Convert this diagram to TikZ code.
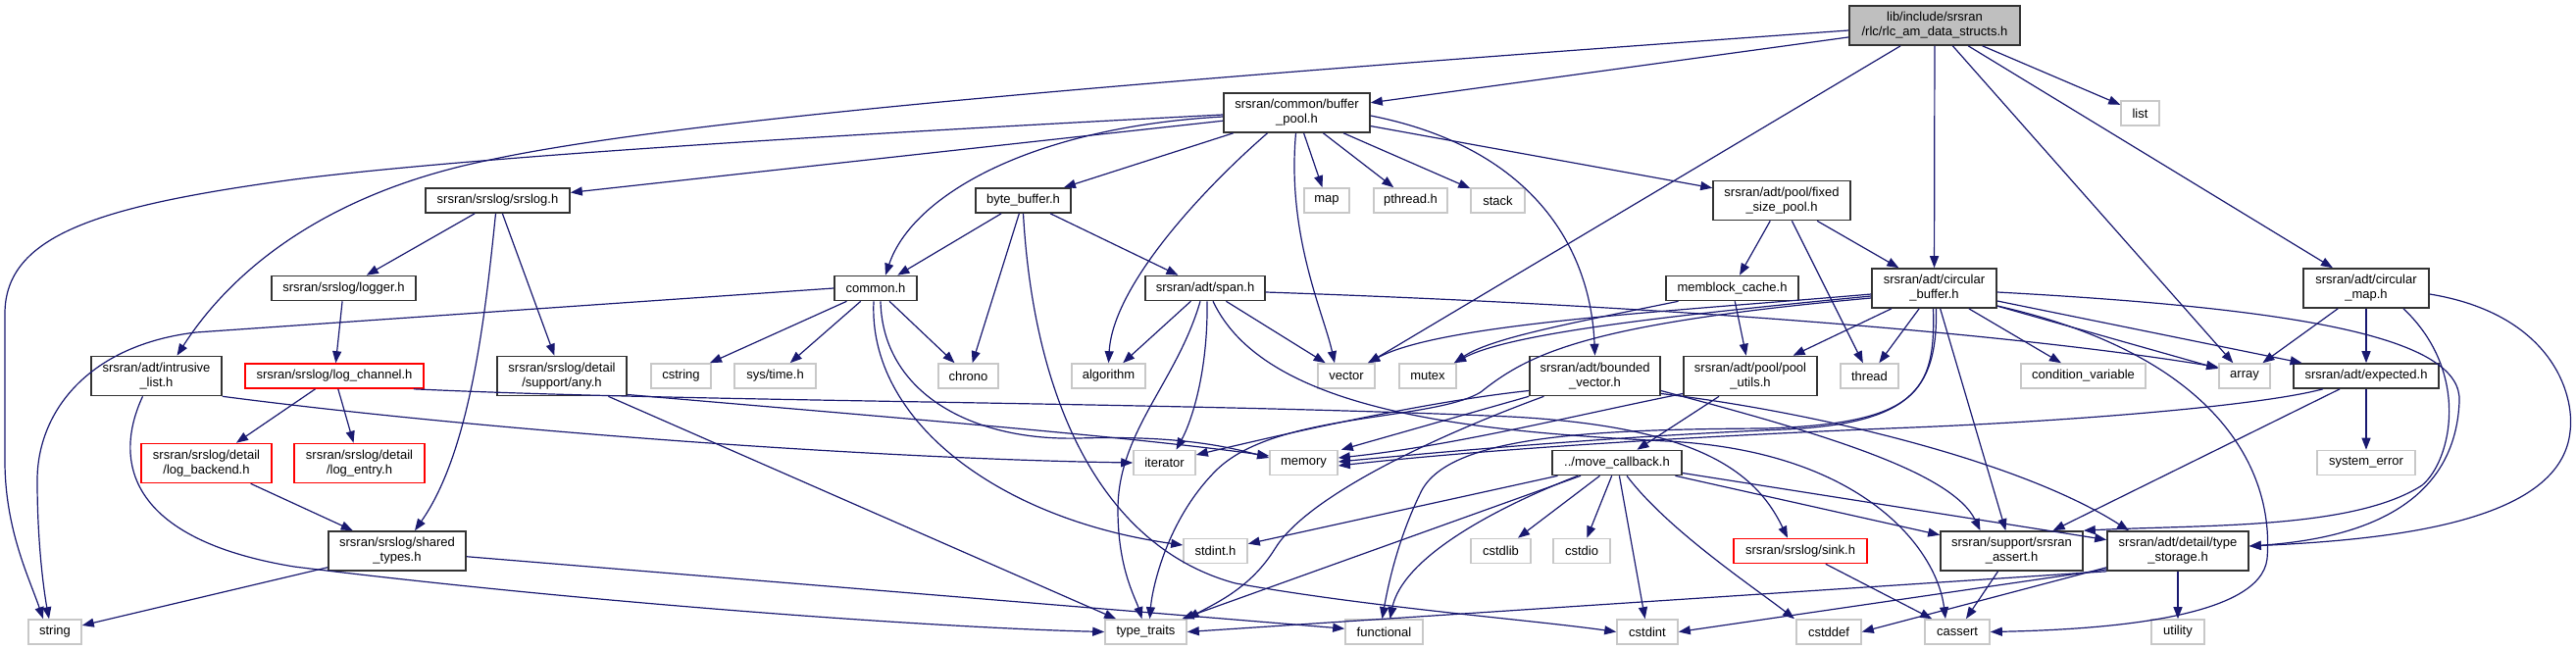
\documentclass[tikz,border=0pt]{standalone}
\usepackage{fontspec}
\setmainfont{Liberation Sans}
\usetikzlibrary{arrows.meta,calc}
\definecolor{edgeblue}{RGB}{25,25,112}
\definecolor{mainfill}{RGB}{191,191,191}
\definecolor{sysgray}{RGB}{200,200,200}
\newcommand\dxfnt{\fontsize{13}{15}\selectfont}
\tikzset{
  base/.style={rectangle, inner sep=0pt, align=center, font=\dxfnt, line width=1.6pt, fill=white},
  nd/.style={base, draw=black!80},
  sys/.style={base, draw=sysgray},
  trunc/.style={base, draw=red},
  mainnd/.style={base, draw=black!80, fill=mainfill},
  wd/.style={minimum width=#1pt},
  one/.style={minimum height=25pt},
  two/.style={minimum height=40pt},
  e/.style={draw=edgeblue, line width=1.2pt, -{Triangle[length=12pt,width=9pt]}},
}
\begin{document}
\begin{tikzpicture}[x=1pt,y=-1pt]
\useasboundingbox (0,0) rectangle (2627,663);
% row 0-1
\node[mainnd,wd=174,two] (main) at (1973,26) {lib/include/srsran\\/rlc/rlc\_am\_data\_structs.h};
\node[nd,wd=149,two] (bp) at (1322.5,115) {srsran/common/buffer\\\_pool.h};
\node[sys,wd=39,one] (list) at (2182.5,115.5) {list};
% row 2
\node[nd,wd=147,one] (srslog) at (507.5,204.5) {srsran/srslog/srslog.h};
\node[nd,wd=97,one] (bbuf) at (1043.5,204.5) {byte\_buffer.h};
\node[sys,wd=46,one] (map) at (1353,204.5) {map};
\node[sys,wd=75,one] (pthread) at (1438.5,204.5) {pthread.h};
\node[sys,wd=55,one] (stack) at (1527.5,204.5) {stack};
\node[nd,wd=140,two] (fixed) at (1817,204.5) {srsran/adt/pool/fixed\\\_size\_pool.h};
% row 3
\node[nd,wd=147,one] (logger) at (350.5,294) {srsran/srslog/logger.h};
\node[nd,wd=84,one] (common) at (893,294) {common.h};
\node[nd,wd=122,one] (span) at (1229,294) {srsran/adt/span.h};
\node[nd,wd=135,one] (memblock) at (1766.5,294) {memblock\_cache.h};
\node[nd,wd=127,two] (cbuf) at (1972.5,294) {srsran/adt/circular\\\_buffer.h};
\node[nd,wd=128,two] (cmap) at (2413,294) {srsran/adt/circular\\\_map.h};
% row 4
\node[nd,wd=133,two] (intru) at (159.5,383.5) {srsran/adt/intrusive\\\_list.h};
\node[trunc,wd=182,one] (logch) at (341,383.5) {srsran/srslog/log\_channel.h};
\node[nd,wd=132,two] (any) at (573,383.5) {srsran/srslog/detail\\/support/any.h};
\node[sys,wd=61,one] (cstring) at (694.5,383.5) {cstring};
\node[sys,wd=83,one] (systime) at (790.5,383.5) {sys/time.h};
\node[sys,wd=61,one] (chrono) at (987.5,383.5) {chrono};
\node[sys,wd=75,one] (algorithm) at (1130.5,383.5) {algorithm};
\node[sys,wd=58,one] (vector) at (1373,383.5) {vector};
\node[sys,wd=58,one] (mutex) at (1456,383.5) {mutex};
\node[nd,wd=133,two] (bvec) at (1626.5,383.5) {srsran/adt/bounded\\\_vector.h};
\node[nd,wd=136,two] (poolu) at (1785,383.5) {srsran/adt/pool/pool\\\_utils.h};
\node[sys,wd=59,one] (thread) at (1906.5,383.5) {thread};
\node[sys,wd=127,one] (condvar) at (2124.5,383.5) {condition\_variable};
\node[sys,wd=52,one] (array) at (2289,383.5) {array};
\node[nd,wd=148,one] (expected) at (2413,383.5) {srsran/adt/expected.h};
% row 5
\node[trunc,wd=133,two] (logback) at (210.5,472.5) {srsran/srslog/detail\\/log\_backend.h};
\node[trunc,wd=133,two] (logentry) at (366.5,472.5) {srsran/srslog/detail\\/log\_entry.h};
\node[sys,wd=63,one] (iterator) at (1187.5,472) {iterator};
\node[sys,wd=69,one] (memory) at (1329.5,472) {memory};
\node[nd,wd=132,one] (mcb) at (1649,472) {../move\_callback.h};
\node[sys,wd=100,one] (syserr) at (2413,472) {system\_error};
% row 6
\node[nd,wd=140,two] (shared) at (405,562) {srsran/srslog/shared\\\_types.h};
\node[sys,wd=65,one] (stdinth) at (1239.5,562) {stdint.h};
\node[sys,wd=61,one] (cstdlib) at (1530.5,562) {cstdlib};
\node[sys,wd=58,one] (cstdio) at (1613,562) {cstdio};
\node[trunc,wd=136,one] (sink) at (1836,562) {srsran/srslog/sink.h};
\node[nd,wd=145,two] (sassert) at (2051.5,562) {srsran/support/srsran\\\_assert.h};
\node[nd,wd=144,two] (ts) at (2221,562) {srsran/adt/detail/type\\\_storage.h};
% row 7
\node[sys,wd=54,one] (string) at (56,644.5) {string};
\node[sys,wd=83,one] (tt) at (1168.5,644.5) {type\_traits};
\node[sys,wd=79,one] (functional) at (1411.5,644.5) {functional};
\node[sys,wd=62,one] (cstdint) at (1680,644.5) {cstdint};
\node[sys,wd=66,one] (cstddef) at (1865,644.5) {cstddef};
\node[sys,wd=66,one] (cassert) at (1996,644.5) {cassert};
\node[sys,wd=54,one] (utility) at (2221,644.5) {utility};

% ---- edges from main
\draw[e] (main) -- (bp);
\draw[e] ([yshift=-5pt]main.west) .. controls (1200,80) and (700,120) .. (500,163) .. controls (340,195) and (240,270) .. ([xshift=21pt]intru.north);
\draw[e] (main) -- (vector);
\draw[e] (main) -- (cbuf);
\draw[e] (main) -- (array);
\draw[e] (main) -- (cmap);
\draw[e] (main) -- (list);
% ---- buffer_pool
\draw[e] (bp) -- (srslog);
\draw[e] ([yshift=-2pt]bp.west) .. controls (900,135) and (500,158) .. (300,183) .. controls (100,210) and (5,240) .. (5,320) -- (5,470) .. controls (5,540) and (30,590) .. ([xshift=-12pt]string.north);
\draw[e] ([yshift=-4pt]bp.west) .. controls (1050,130) and (930,200) .. ([xshift=10pt]common.north);
\draw[e] (bp) -- (bbuf);
\draw[e] ([xshift=-30pt]bp.south) .. controls (1230,190) and (1135,290) .. (algorithm.north);
\draw[e] ([xshift=-1pt]bp.south) .. controls (1312,240) and (1350,320) .. ([xshift=-12pt]vector.north);
\draw[e] (bp) -- (map);
\draw[e] (bp) -- (pthread);
\draw[e] (bp) -- (stack);
\draw[e] (bp) -- (fixed);
\draw[e] ([yshift=-3pt]bp.east) .. controls (1560,150) and (1622,250) .. (bvec.north);
% ---- srslog family
\draw[e] (srslog) -- (logger);
\draw[e] (srslog) -- (any);
\draw[e] ([xshift=-2pt]srslog.south) .. controls (495,320) and (480,460) .. ([xshift=18pt]shared.north);
\draw[e] (logger) -- (logch);
\draw[e] (logch) -- (logback);
\draw[e] (logch) -- (logentry);
\draw[e] ([xshift=-11pt]logch.south east) .. controls (700,410) and (1200,410) .. (1540,425) .. controls (1730,435) and (1790,480) .. ([xshift=-13pt]sink.north);
\draw[e] (logback) -- (shared);
\draw[e] (shared) -- (string);
\draw[e] (shared) -- (functional);
\draw[e] (intru.south east) .. controls (500,440) and (900,468) .. (iterator.west);
\draw[e] ([xshift=-14pt]intru.south) .. controls (115,470) and (130,550) .. (300,578) .. controls (600,615) and (950,640) .. (tt.west);
\draw[e] ([yshift=-19pt]any.east) .. controls (900,425) and (1150,445) .. ([yshift=7pt]memory.west);
\draw[e] (any) -- (tt);
% ---- byte_buffer, common, span
\draw[e] (bbuf) -- (common);
\draw[e] (bbuf) -- (span);
\draw[e] (bbuf) -- (chrono);
\draw[e] (bbuf.south) .. controls (1055,420) and (1130,560) .. (1260,595) .. controls (1400,620) and (1560,632) .. (cstdint.west);
\draw[e] (common) -- (cstring);
\draw[e] (common) -- (systime);
\draw[e] (common) -- (chrono);
\draw[e] ([xshift=-2pt]common.south) .. controls (885,430) and (1020,530) .. ([yshift=6pt]stdinth.west);
\draw[e] ([xshift=5pt]common.south) .. controls (900,400) and (990,450) .. (1100,447) .. controls (1200,444) and (1250,455) .. ([yshift=5pt]memory.west);
\draw[e] (common.west) -- (200,339) .. controls (90,352) and (38,420) .. (38,490) .. controls (38,560) and (46,610) .. ([xshift=-6pt]string.north);
\draw[e] (span) -- (algorithm);
\draw[e] ([xshift=-5pt]span.south) .. controls (1200,390) and (1140,440) .. (1140,520) .. controls (1140,580) and (1158,610) .. ([xshift=-4pt]tt.north);
\draw[e] ([xshift=2pt]span.south) .. controls (1232,380) and (1215,430) .. ([xshift=12pt]iterator.north);
\draw[e] (span) -- (vector);
\draw[e] ([yshift=-4pt]span.east) .. controls (1700,312) and (2050,340) .. ([yshift=9pt]array.west);
\draw[e] ([xshift=8pt]span.south) .. controls (1290,420) and (1500,440) .. (1700,450) .. controls (1900,460) and (1975,560) .. ([xshift=-12pt]cassert.north);
% ---- pools
\draw[e] (fixed) -- (memblock);
\draw[e] (fixed) -- (thread);
\draw[e] (fixed) -- (cbuf);
\draw[e] ([xshift=-55pt]memblock.south) .. controls (1600,330) and (1520,345) .. ([xshift=27pt]mutex.north);
\draw[e] (memblock) -- (poolu);
\draw[e] (poolu) -- (mcb);
\draw[e] ([yshift=-18pt]poolu.west) .. controls (1600,425) and (1480,455) .. ([yshift=5pt]memory.east);
% ---- move_callback
\draw[e] (mcb) -- (stdinth);
\draw[e] (mcb) -- (tt);
\draw[e] ([xshift=-40pt]mcb.south) .. controls (1520,520) and (1430,570) .. ([xshift=6pt]functional.north);
\draw[e] (mcb) -- (cstdlib);
\draw[e] (mcb) -- (cstdio);
\draw[e] (mcb) -- (cstdint);
\draw[e] ([xshift=10pt]mcb.south) .. controls (1700,540) and (1790,600) .. ([xshift=-35pt]cstddef.north);
\draw[e] (mcb) -- (sassert);
\draw[e] (mcb) -- (ts);
\draw[e] (sink) -- (cassert);
\draw[e] (sassert) -- (cassert);
% ---- type_storage
\draw[e] (ts) -- (utility);
\draw[e] (ts.south west) -- (tt.east);
\draw[e] ([yshift=2pt]ts.south west) -- (cstdint.east);
\draw[e] ([yshift=4pt]ts.south west) -- (cstddef.east);
% ---- circular_buffer
\draw[e] ([yshift=-6pt]cbuf.west) .. controls (1700,318) and (1470,330) .. ([xshift=22pt]vector.north);
\draw[e] ([yshift=-8pt]cbuf.west) .. controls (1700,322) and (1540,340) .. ([xshift=27pt]mutex.north);
\draw[e] (cbuf) -- (poolu);
\draw[e] (cbuf) -- (thread);
\draw[e] (cbuf) -- (condvar);
\draw[e] (cbuf) -- (array);
\draw[e] (cbuf) -- (expected);
\draw[e] (cbuf) -- (sassert);
\draw[e] ([yshift=-18pt]cbuf.east) .. controls (2250,360) and (2320,470) .. (2312,570) .. controls (2305,630) and (2150,642) .. (cassert.east);
\draw[e] ([yshift=-4pt]cbuf.east) .. controls (2350,315) and (2512,345) .. (2508,410) .. controls (2503,520) and (2400,550) .. ([yshift=5pt]ts.east);
\draw[e] ([xshift=2pt]cbuf.south) .. controls (1976,400) and (1945,432) .. (1820,438) .. controls (1650,445) and (1480,460) .. ([yshift=1pt]memory.east);
\draw[e] ([xshift=-1pt]cbuf.south) .. controls (1974,400) and (1955,432) .. (1800,437) .. controls (1620,438) and (1480,445) .. (1450,500) .. controls (1425,550) and (1415,600) .. ([xshift=-2pt]functional.north);
\draw[e] ([yshift=-10pt]cbuf.west) .. controls (1620,330) and (1560,360) .. (1510,400) .. controls (1460,430) and (1300,420) .. (1240,480) .. controls (1190,530) and (1175,600) .. ([xshift=4pt]tt.north);
% ---- bounded_vector
\draw[e] ([yshift=-15pt]bvec.west) .. controls (1450,410) and (1300,445) .. ([yshift=8pt]iterator.east);
\draw[e] (bvec.south west) -- ([xshift=3pt]memory.north east);
\draw[e] ([xshift=-52pt]bvec.south) .. controls (1450,450) and (1330,510) .. (1300,560) .. controls (1275,600) and (1240,615) .. (tt.north east);
\draw[e] ([yshift=-15pt]bvec.east) .. controls (1850,440) and (1990,480) .. ([xshift=-32pt]sassert.north);
\draw[e] ([yshift=-18pt]bvec.east) .. controls (1850,420) and (2060,470) .. ([xshift=-50pt]ts.north);
% ---- circular_map
\draw[e] (cmap) -- (array);
\draw[e] (cmap) -- (expected);
\draw[e] ([xshift=38pt]cmap.south) .. controls (2520,380) and (2500,470) .. (2470,495) .. controls (2400,540) and (2250,535) .. (sassert.north east);
\draw[e] ([yshift=-6pt]cmap.east) .. controls (2600,320) and (2626,400) .. (2621,440) .. controls (2612,530) and (2450,550) .. ([yshift=5pt]ts.east);
% ---- expected
\draw[e] ([xshift=-44pt]expected.south) .. controls (2300,415) and (2100,430) .. (1950,436) .. controls (1700,446) and (1500,460) .. ([yshift=-3pt]memory.east);
\draw[e] (expected) -- (sassert);
\draw[e] (expected) -- (syserr);
\end{tikzpicture}
\end{document}
